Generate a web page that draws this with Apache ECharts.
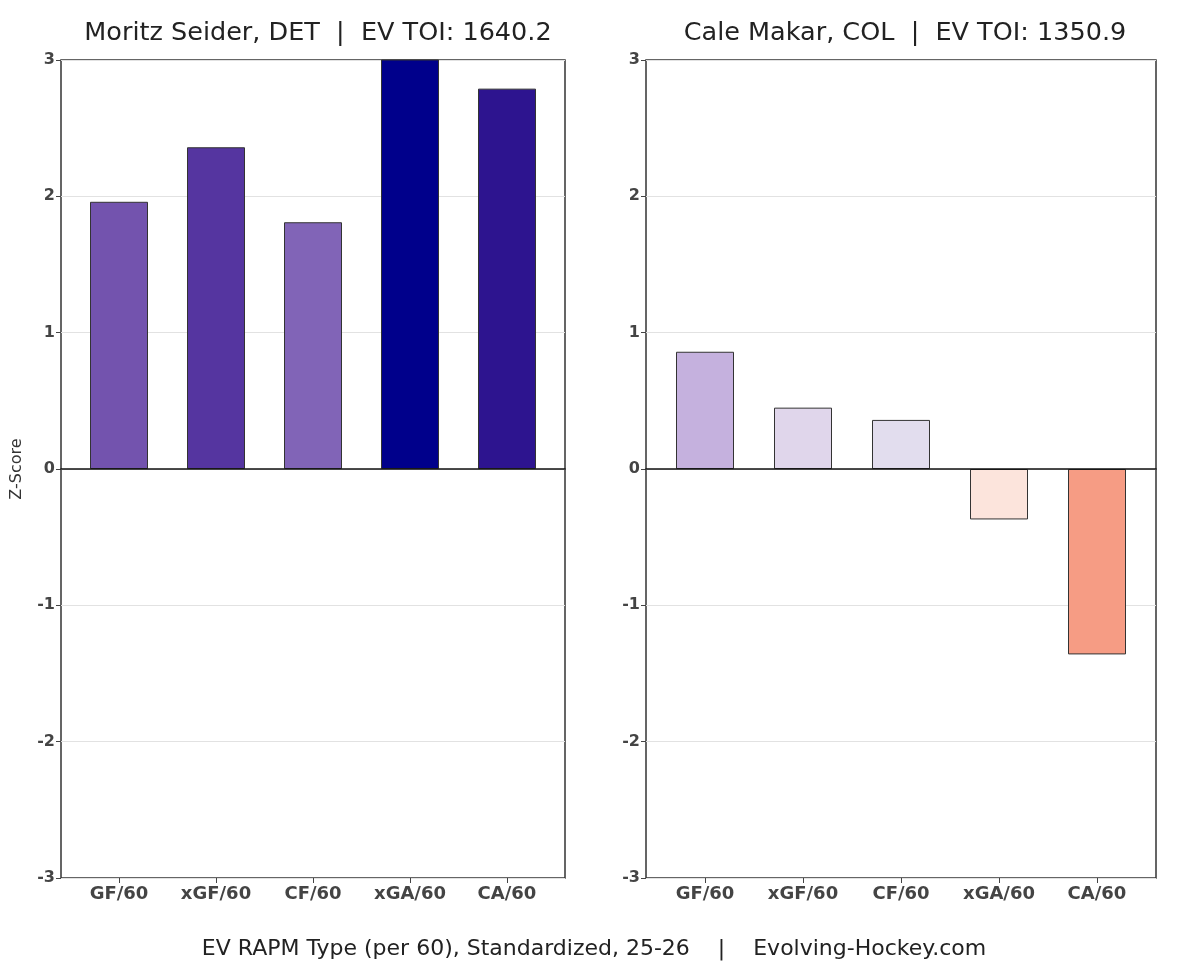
<!DOCTYPE html>
<html>
<head>
<meta charset="utf-8">
<script src="https://cdn.jsdelivr.net/npm/echarts@6/dist/echarts.min.js"></script>
<style>
  html, body { margin: 0; padding: 0; background: #fff; }
  #chart { width: 1179px; height: 969px; }
</style>
</head>
<body>
<div id="chart"></div>
<script>
// categories
const categories = ['GF/60', 'xGF/60', 'CF/60', 'xGA/60', 'CA/60'];

// Moritz Seider, DET
const seiderTitle = 'Moritz Seider, DET  |  EV TOI: 1640.2';
const seiderValues = [1.96, 2.36, 1.81, 3.1, 2.79];
const seiderColors = ['#7353ae', '#5535a0', '#8164b7', '#00008b', '#2d148f'];

// Cale Makar, COL
const makarTitle = 'Cale Makar, COL  |  EV TOI: 1350.9';
const makarValues = [0.86, 0.45, 0.36, -0.37, -1.36];
const makarColors = ['#c5b1de', '#e0d6eb', '#e2ddee', '#fce4dc', '#f69c84'];

const footer = 'EV RAPM Type (per 60), Standardized, 25-26    |    Evolving-Hockey.com';

const font = 'DejaVu Sans';
const myChart = echarts.init(document.getElementById('chart'));

// frame grids carry the y axis, gridlines and the zero line
function frameYAxis(idx, name) {
    return {
        type: 'value', gridIndex: idx, min: -3, max: 3, interval: 1,
        name: name, nameLocation: 'middle', nameGap: 36,
        nameTextStyle: {fontFamily: font, fontSize: 16, color: '#333'},
        axisLine: {show: false},
        axisTick: {show: true, length: 5, lineStyle: {color: '#444'}},
        axisLabel: {fontFamily: font, fontWeight: 'bold', fontSize: 16, color: '#444', margin: 6},
        splitLine: {show: true, lineStyle: {color: '#e2e2e2', width: 1}}
    };
}

function frameXAxis(idx) {
    return {
        type: 'value', gridIndex: idx, min: 0, max: 1, z: 5,
        axisLine: {show: true, onZero: true, lineStyle: {color: '#111', width: 1.5}},
        axisTick: {show: false}, axisLabel: {show: false}, splitLine: {show: false}
    };
}

// bar grids are inset a little so the bars sit like in the original
function barXAxis(idx) {
    return {
        type: 'category', gridIndex: idx, data: categories,
        axisLine: {show: false, onZero: false},
        axisTick: {show: true, alignWithLabel: true, length: 5, lineStyle: {color: '#444'}},
        axisLabel: {fontFamily: font, fontWeight: 'bold', fontSize: 18, color: '#444', margin: 7},
        splitLine: {show: false}
    };
}

function barYAxis(idx) {
    return {type: 'value', gridIndex: idx, min: -3, max: 3, show: false};
}

function barSeries(idx, values, colors) {
    return {
        type: 'bar', xAxisIndex: idx, yAxisIndex: idx,
        barWidth: 58, clip: true,
        data: values.map((v, i) => ({
            value: v,
            itemStyle: {color: colors[i], borderColor: '#333', borderWidth: 1}
        })),
        z: 3
    };
}

myChart.setOption({
    backgroundColor: '#fff',
    animation: false,
    title: [
        {text: seiderTitle, left: 313, top: 15, textAlign: 'center',
            textStyle: {fontFamily: font, fontWeight: 'normal', fontSize: 25.5, color: '#222'}},
        {text: makarTitle, left: 900, top: 15, textAlign: 'center',
            textStyle: {fontFamily: font, fontWeight: 'normal', fontSize: 25.5, color: '#222'}},
        {text: footer, left: 589, top: 933, textAlign: 'center',
            textStyle: {fontFamily: font, fontWeight: 'normal', fontSize: 22, color: '#222'}}
    ],
    grid: [
        {left: 61, top: 60, width: 504, height: 818, show: true, borderColor: '#333', borderWidth: 1.5},
        {left: 646, top: 60, width: 510, height: 818, show: true, borderColor: '#333', borderWidth: 1.5},
        {left: 70.5, top: 60, width: 485, height: 818},
        {left: 656, top: 60, width: 490, height: 818}
    ],
    xAxis: [frameXAxis(0), frameXAxis(1), barXAxis(2), barXAxis(3)],
    yAxis: [frameYAxis(0, 'Z-Score'), frameYAxis(1, ''), barYAxis(2), barYAxis(3)],
    series: [
        barSeries(2, seiderValues, seiderColors),
        barSeries(3, makarValues, makarColors)
    ]
});
</script>
</body>
</html>
